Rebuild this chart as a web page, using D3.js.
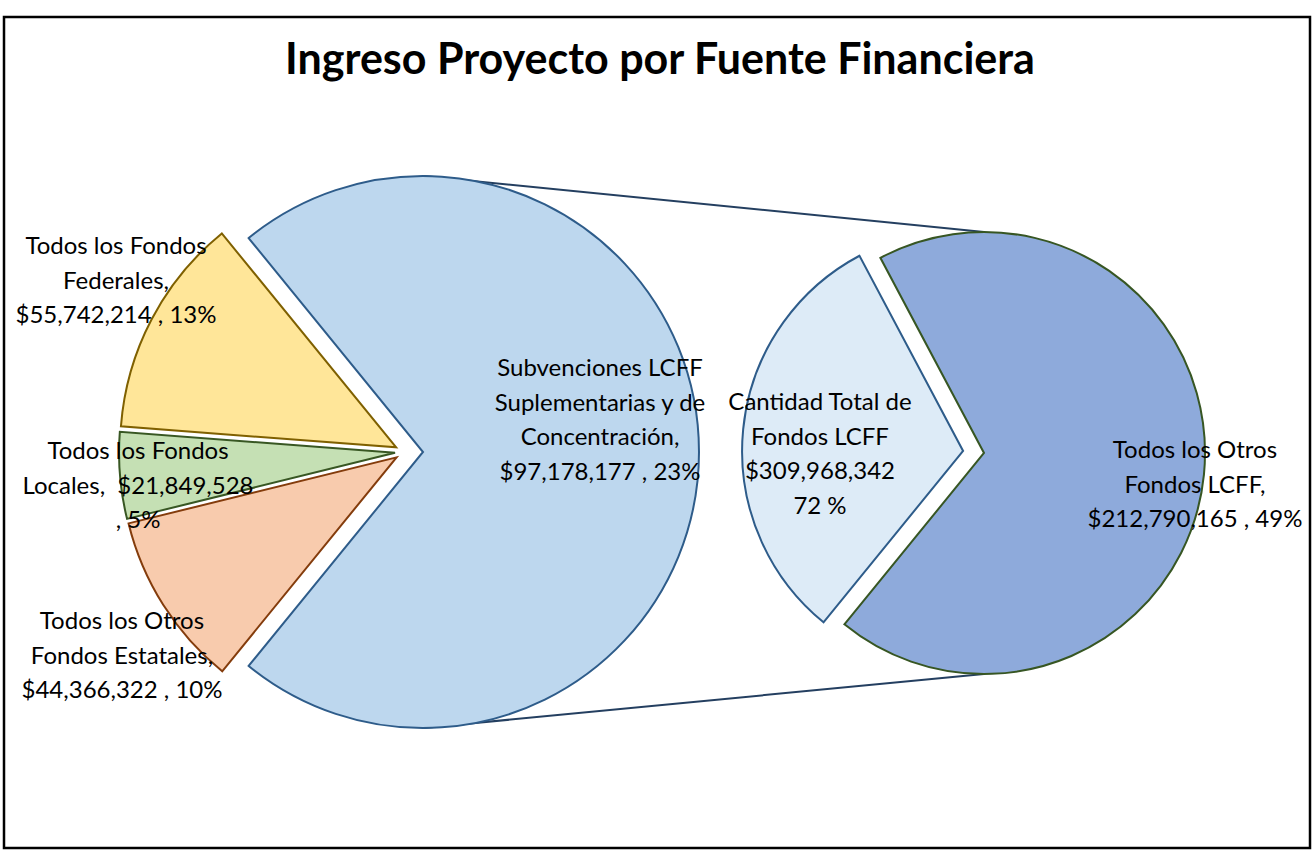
<!DOCTYPE html>
<html>
<head>
<meta charset="utf-8">
<script src="https://cdn.jsdelivr.net/npm/d3@7"></script>
<style>
  body { margin: 0; background: #fff; }
  svg { display: block; }
  text { font-family: Lato, "Noto Sans", sans-serif; fill: #000; white-space: pre; }
</style>
</head>
<body>
<div id="chart"></div>
<script>
// first pie: the three small sources and the aggregated LCFF slice
const leftNames = ['Todos los Otros Fondos Estatales', 'Todos los Fondos Locales', 'Todos los Fondos Federales', 'Fondos LCFF']
const leftValues = [44366322, 21849528, 55742214, 309968342]
const leftColors = ['#F8CBAD', '#C5E0B4', '#FFE699', '#BDD7EE']
const leftStrokes = ['#843C0C', '#385723', '#7F6000', '#2E5C8A']

// second pie: breakdown of LCFF
const rightNames = ['Subvenciones LCFF Suplementarias y de Concentración', 'Todos los Otros Fondos LCFF']
const rightValues = [97178177, 212790165]
const rightColors = ['#DDEBF7', '#8EAADB']
const rightStrokes = ['#2E5C8A', '#375623']

// data labels as printed on the chart
const labelLines = [
  ['Todos los Fondos', 'Federales,', '$55,742,214 , 13%'],
  ['Todos los Fondos', 'Locales,  $21,849,528', ', 5%'],
  ['Todos los Otros', 'Fondos Estatales,', '$44,366,322 , 10%'],
  ['Subvenciones LCFF', 'Suplementarias y de', 'Concentración,', '$97,178,177 , 23%'],
  ['Cantidad Total de', 'Fondos LCFF', '$309,968,342', '72 %'],
  ['Todos los Otros', 'Fondos LCFF,', '$212,790,165 , 49%']
]
const labelPos = [[116, 254], [138, 459], [122, 629], [600, 376], [820, 410], [1195, 458]]

const title = 'Ingreso Proyecto por Fuente Financiera'

const width = 1315
const height = 850
const left = { x: 423, y: 452, r: 276 }
const right = { x: 984, y: 453, r: 221 }

const svg = d3.select('#chart')
  .append('svg')
  .attr('width', width)
  .attr('height', height)

// frame
svg.append('rect')
  .attr('x', 4)
  .attr('y', 17)
  .attr('width', 1306)
  .attr('height', 831)
  .attr('fill', '#fff')
  .attr('stroke', '#000')
  .attr('stroke-width', 2.5)

svg.append('text')
  .attr('x', 660)
  .attr('y', 74)
  .attr('text-anchor', 'middle')
  .style('font-size', '43px')
  .style('font-weight', 'bold')
  .text(title)

// small slices are centered on the left, the LCFF slice faces the second pie
const total = d3.sum(leftValues)
const smallAngle = 2 * Math.PI * d3.sum(leftValues.slice(0, 3)) / total
const start = -Math.PI / 2 - smallAngle / 2

const leftPie = d3.pie().sort(null).startAngle(start).endAngle(start + 2 * Math.PI)
const rightPie = d3.pie().sort(null).startAngle(start).endAngle(start + 2 * Math.PI)
const leftArc = d3.arc().innerRadius(0).outerRadius(left.r)
const rightArc = d3.arc().innerRadius(0).outerRadius(right.r)

// connector lines between the pies
const leftArcs = leftPie(leftValues)
const rightArcs = rightPie(rightValues)
const ends = [0, Math.PI]
svg.selectAll('.connector')
  .data(ends)
  .enter()
  .append('line')
  .classed('connector', true)
  .attr('x1', (a) => left.x + left.r * Math.sin(a))
  .attr('y1', (a) => left.y - left.r * Math.cos(a))
  .attr('x2', (a) => right.x + right.r * Math.sin(a))
  .attr('y2', (a) => right.y - right.r * Math.cos(a))
  .attr('stroke', '#243F60')
  .attr('stroke-width', 2)

const explode = (d, dist) => {
  let mid = (d.startAngle + d.endAngle) / 2
  return [dist * Math.sin(mid), -dist * Math.cos(mid)]
}

svg.append('g')
  .attr('transform', `translate(${left.x},${left.y})`)
  .selectAll('path')
  .data(leftArcs)
  .enter()
  .append('path')
  .attr('d', leftArc)
  .attr('transform', (d, i) => {
    if (i === 3) return null
    let [dx, dy] = explode(d, 10)
    return `translate(${dx - 18},${dy})`
  })
  .attr('fill', (d, i) => leftColors[i])
  .attr('stroke', (d, i) => leftStrokes[i])
  .attr('stroke-width', 2)
  .attr('stroke-linejoin', 'miter')

svg.append('g')
  .attr('transform', `translate(${right.x},${right.y})`)
  .selectAll('path')
  .data(rightArcs)
  .enter()
  .append('path')
  .attr('d', rightArc)
  .attr('transform', (d, i) => {
    if (i === 1) return null
    let [dx, dy] = explode(d, 21)
    return `translate(${dx},${dy})`
  })
  .attr('fill', (d, i) => rightColors[i])
  .attr('stroke', (d, i) => rightStrokes[i])
  .attr('stroke-width', 2)

// labels
const labels = svg.append('g')
  .selectAll('text')
  .data(labelLines)
  .enter()
  .append('text')
  .attr('text-anchor', 'middle')
  .style('font-size', '24px')
labels.selectAll('tspan')
  .data((d, i) => d.map((line) => ({ line, pos: labelPos[i] })))
  .enter()
  .append('tspan')
  .attr('x', (d) => d.pos[0])
  .attr('y', (d, j) => d.pos[1] + j * 34.5)
  .text((d) => d.line)
</script>
</body>
</html>
